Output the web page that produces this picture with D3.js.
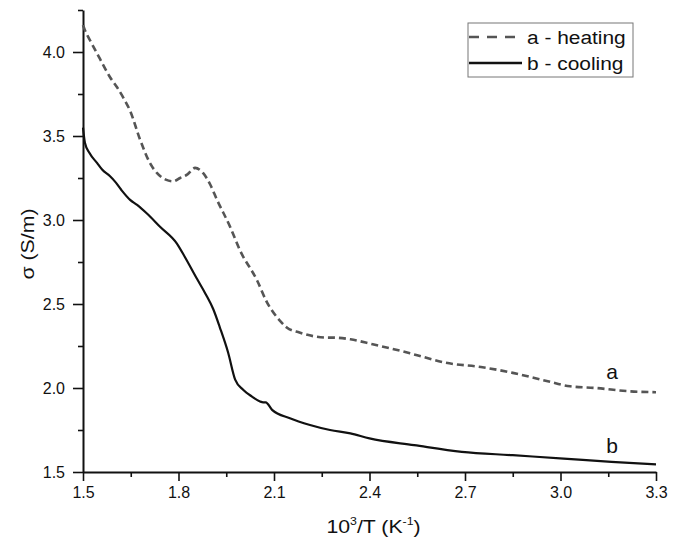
<!DOCTYPE html>
<html>
<head>
<meta charset="utf-8">
<script src="https://cdn.jsdelivr.net/npm/d3@7"></script>
<style>
  body { margin: 0; background: #fff; }
  text { font-family: "Liberation Sans", Arial, sans-serif; fill: #111; }
</style>
</head>
<body>
<div id="chart"></div>
<script>
// heating curve (a), 10^3/T vs sigma
var heatX = [1.5, 1.506, 1.522, 1.553, 1.585, 1.607, 1.632, 1.648, 1.679, 1.710, 1.732, 1.760, 1.783, 1.805, 1.827, 1.852, 1.877, 1.90, 1.921, 1.962, 1.993, 2.047, 2.078, 2.119, 2.14, 2.18, 2.27, 2.285, 2.34, 2.41, 2.50, 2.54, 2.64, 2.75, 2.85, 2.96, 3.03, 3.11, 3.22, 3.30];
var heatY = [4.16, 4.13, 4.07, 3.96, 3.85, 3.79, 3.71, 3.65, 3.48, 3.34, 3.28, 3.24, 3.23, 3.25, 3.27, 3.31, 3.28, 3.21, 3.12, 2.96, 2.82, 2.64, 2.51, 2.40, 2.36, 2.33, 2.30, 2.30, 2.29, 2.26, 2.22, 2.20, 2.15, 2.125, 2.09, 2.04, 2.01, 2.0, 1.98, 1.975];

// cooling curve (b)
var coolX = [1.5, 1.506, 1.52, 1.544, 1.56, 1.585, 1.60, 1.62, 1.648, 1.67, 1.70, 1.742, 1.795, 1.82, 1.858, 1.885, 1.909, 1.93, 1.956, 1.978, 2.003, 2.03, 2.056, 2.066, 2.074, 2.094, 2.15, 2.213, 2.276, 2.34, 2.40, 2.54, 2.69, 2.85, 3.01, 3.16, 3.30];
var coolY = [3.55, 3.46, 3.40, 3.34, 3.30, 3.26, 3.23, 3.18, 3.12, 3.09, 3.04, 2.96, 2.86, 2.78, 2.65, 2.56, 2.47, 2.36, 2.21, 2.05, 1.99, 1.95, 1.92, 1.915, 1.915, 1.87, 1.82, 1.78, 1.75, 1.73, 1.70, 1.66, 1.62, 1.60, 1.58, 1.56, 1.545];

var xTicks = [1.5, 1.8, 2.1, 2.4, 2.7, 3.0, 3.3];
var yTicks = [1.5, 2.0, 2.5, 3.0, 3.5, 4.0];
var legendLabels = ["a - heating", "b - cooling"];
var curveLabels = ["a", "b"];

var W = 682, H = 538;
var margin = {top: 10, right: 26, bottom: 66, left: 83};

var svg = d3.select("#chart").append("svg")
    .attr("width", W).attr("height", H);

var x = d3.scaleLinear().domain([1.5, 3.3]).range([margin.left, W - margin.right]);
var y = d3.scaleLinear().domain([1.5, 4.25]).range([H - margin.bottom, margin.top]);

// minor ticks first (no labels)
var xMinor = d3.range(1.65, 3.3, 0.3);
var yMinor = d3.range(1.75, 4.3, 0.5);

svg.append("g")
    .attr("transform", "translate(0," + (H - margin.bottom) + ")")
    .call(d3.axisBottom(x).tickValues(xMinor).tickSize(5).tickFormat(""))
    .call(function (g) { g.select(".domain").remove(); });

svg.append("g")
    .attr("transform", "translate(" + margin.left + ",0)")
    .call(d3.axisLeft(y).tickValues(yMinor).tickSize(5).tickFormat(""))
    .call(function (g) { g.select(".domain").remove(); });

var xAxis = svg.append("g")
    .attr("transform", "translate(0," + (H - margin.bottom) + ")")
    .call(d3.axisBottom(x).tickValues(xTicks).tickSize(9).tickSizeOuter(0).tickPadding(6).tickFormat(d3.format(".1f")));

var yAxis = svg.append("g")
    .attr("transform", "translate(" + margin.left + ",0)")
    .call(d3.axisLeft(y).tickValues(yTicks).tickSize(10).tickSizeOuter(0).tickPadding(8).tickFormat(d3.format(".1f")));

svg.selectAll("g .domain").attr("stroke", "#111").attr("stroke-width", 2);
svg.selectAll(".tick line").attr("stroke", "#111").attr("stroke-width", 1.6);
[xAxis, yAxis].forEach(function (a) {
  a.selectAll("text")
    .attr("font-size", 16)
    .attr("fill", "#111")
    .style("font-family", "Liberation Sans, Arial, sans-serif");
});

// curves
var line = d3.line()
    .x(function (d) { return x(d[0]); })
    .y(function (d) { return y(d[1]); })
    .curve(d3.curveMonotoneX);

var heat = heatX.map(function (v, i) { return [v, heatY[i]]; });
var cool = coolX.map(function (v, i) { return [v, coolY[i]]; });

svg.append("path").datum(heat)
    .attr("d", line)
    .attr("fill", "none")
    .attr("stroke", "#555")
    .attr("stroke-width", 2.6)
    .attr("stroke-dasharray", "7,4");

svg.append("path").datum(cool)
    .attr("d", line)
    .attr("fill", "none")
    .attr("stroke", "#111")
    .attr("stroke-width", 2.2);

// curve labels
svg.selectAll(".clabel")
  .data(curveLabels)
  .enter().append("text")
    .attr("class", "clabel")
    .attr("x", 612)
    .attr("y", function (d, i) { return i === 0 ? 379 : 453; })
    .attr("text-anchor", "middle")
    .attr("font-size", 21)
    .text(function (d) { return d; });

// axis titles
var xt = svg.append("text")
    .attr("transform", "translate(" + ((margin.left + W - margin.right) / 2 + 4) + "," + 533 + ") scale(1.12,1)")
    .attr("text-anchor", "middle")
    .attr("font-size", 19);
xt.append("tspan").text("10");
xt.append("tspan").attr("font-size", 11).attr("dy", -8).text("3");
xt.append("tspan").attr("dy", 8).text("/T (K");
xt.append("tspan").attr("font-size", 11).attr("dy", -8).text("-1");
xt.append("tspan").attr("dy", 8).text(")");

svg.append("text")
    .attr("transform", "translate(34," + 244 + ") rotate(-90) scale(1.12,1)")
    .attr("text-anchor", "middle")
    .attr("font-size", 19)
    .text("\u03c3 (S/m)");

// legend
var lg = svg.append("g").attr("transform", "translate(468,23)");
lg.append("rect")
    .attr("width", 165).attr("height", 54)
    .attr("fill", "#fff")
    .attr("stroke", "#777")
    .attr("stroke-width", 1);

var items = lg.selectAll(".item")
  .data(legendLabels)
  .enter().append("g")
    .attr("transform", function (d, i) { return "translate(0," + (14 + i * 26) + ")"; });

items.append("line")
    .attr("x1", 1).attr("x2", 54)
    .attr("stroke", function (d, i) { return i === 0 ? "#555" : "#111"; })
    .attr("stroke-width", 2.4)
    .attr("stroke-dasharray", function (d, i) { return i === 0 ? "10,8" : null; });

items.append("text")
    .attr("x", 59)
    .attr("y", 7)
    .attr("font-size", 19)
    .attr("transform", "translate(59,0) scale(1.1,1) translate(-59,0)")
    .text(function (d) { return d; });
</script>
</body>
</html>
